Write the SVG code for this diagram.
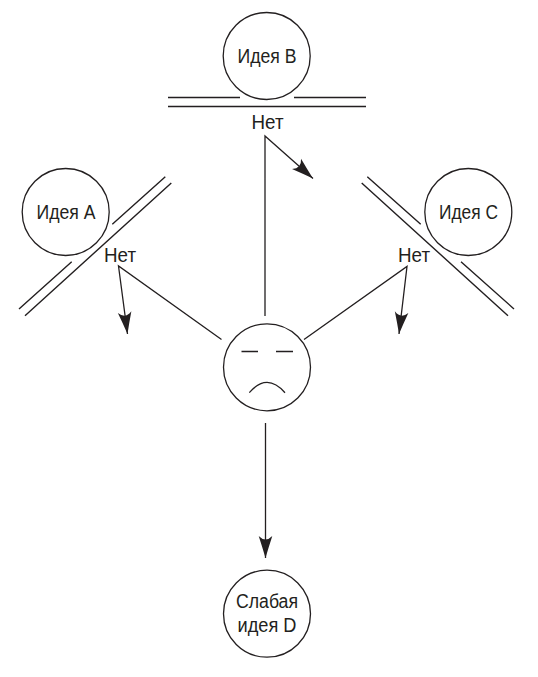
<svg xmlns="http://www.w3.org/2000/svg" width="538" height="677" viewBox="0 0 538 677">
<style>
.c{fill:#fff;stroke:#231f20;stroke-width:1.3}
.l{fill:none;stroke:#231f20;stroke-width:1.4}
.k{fill:none;stroke:#231f20;stroke-width:1.3}
.t{font-family:"Liberation Sans",sans-serif;font-size:20px;fill:#231f20;text-anchor:middle}
</style>
<defs>
<marker id="ah" markerUnits="userSpaceOnUse" markerWidth="24" markerHeight="16" refX="22" refY="8" orient="auto">
<path d="M0,1.2 Q11,4.8 22,8 Q11,11.2 0,14.8 Q7,8 0,1.2 Z" fill="#231f20"/>
</marker>
</defs>
<rect width="538" height="677" fill="#fff"/>
<g id="connectors">
<path class="k" d="M265,316V136L313,178.5" marker-end="url(#ah)"/>
<path class="k" d="M221.5,339.5L118.5,266L127.5,334" marker-end="url(#ah)"/>
<path class="k" d="M304,339.5L407,266.5L399,334" marker-end="url(#ah)"/>
<path class="k" d="M265.5,423V558" marker-end="url(#ah)"/>
</g>
<g id="idea-b">
<circle class="c" cx="266.7" cy="56" r="43.5"/>
<text class="t" x="267" y="62.5" textLength="59" lengthAdjust="spacingAndGlyphs">Идея B</text>
</g>
<g id="barrier-b">
<path class="l" d="M168,97.5H240M294,97.5H366M168,106.5H366"/>
<text class="t" x="267.5" y="129" textLength="32" lengthAdjust="spacingAndGlyphs">Нет</text>
</g>
<g id="idea-a">
<circle class="c" cx="65.7" cy="212" r="43.5"/>
<text class="t" x="66" y="218.5" textLength="59" lengthAdjust="spacingAndGlyphs">Идея A</text>
</g>
<g id="barrier-a">
<path class="l" d="M19,309L71.7,261.7M112.3,224.3L165.3,176.7M25,315.7L171.3,183"/>
<text class="t" x="120" y="261.5" textLength="32" lengthAdjust="spacingAndGlyphs">Нет</text>
</g>
<g id="idea-c">
<circle class="c" cx="468.3" cy="212" r="43.5"/>
<text class="t" x="468.5" y="218.5" textLength="59" lengthAdjust="spacingAndGlyphs">Идея C</text>
</g>
<g id="barrier-c">
<path class="l" d="M367.3,176.7L420.7,224.3M461,261.7L514,309M361.7,183L508,315.7"/>
<text class="t" x="414" y="261.5" textLength="32" lengthAdjust="spacingAndGlyphs">Нет</text>
</g>
<g id="sad-face">
<circle class="c" cx="267" cy="367.3" r="43.5"/>
<path class="k" d="M241.5,351.5H258M276,351.5H293M249.3,392.7Q267,372 285,392.7"/>
</g>
<g id="idea-d">
<circle class="c" cx="267" cy="613.7" r="43.5"/>
<text class="t" x="267" y="608" textLength="62" lengthAdjust="spacingAndGlyphs">Слабая</text>
<text class="t" x="267" y="631.5" textLength="59" lengthAdjust="spacingAndGlyphs">идея D</text>
</g>
</svg>
